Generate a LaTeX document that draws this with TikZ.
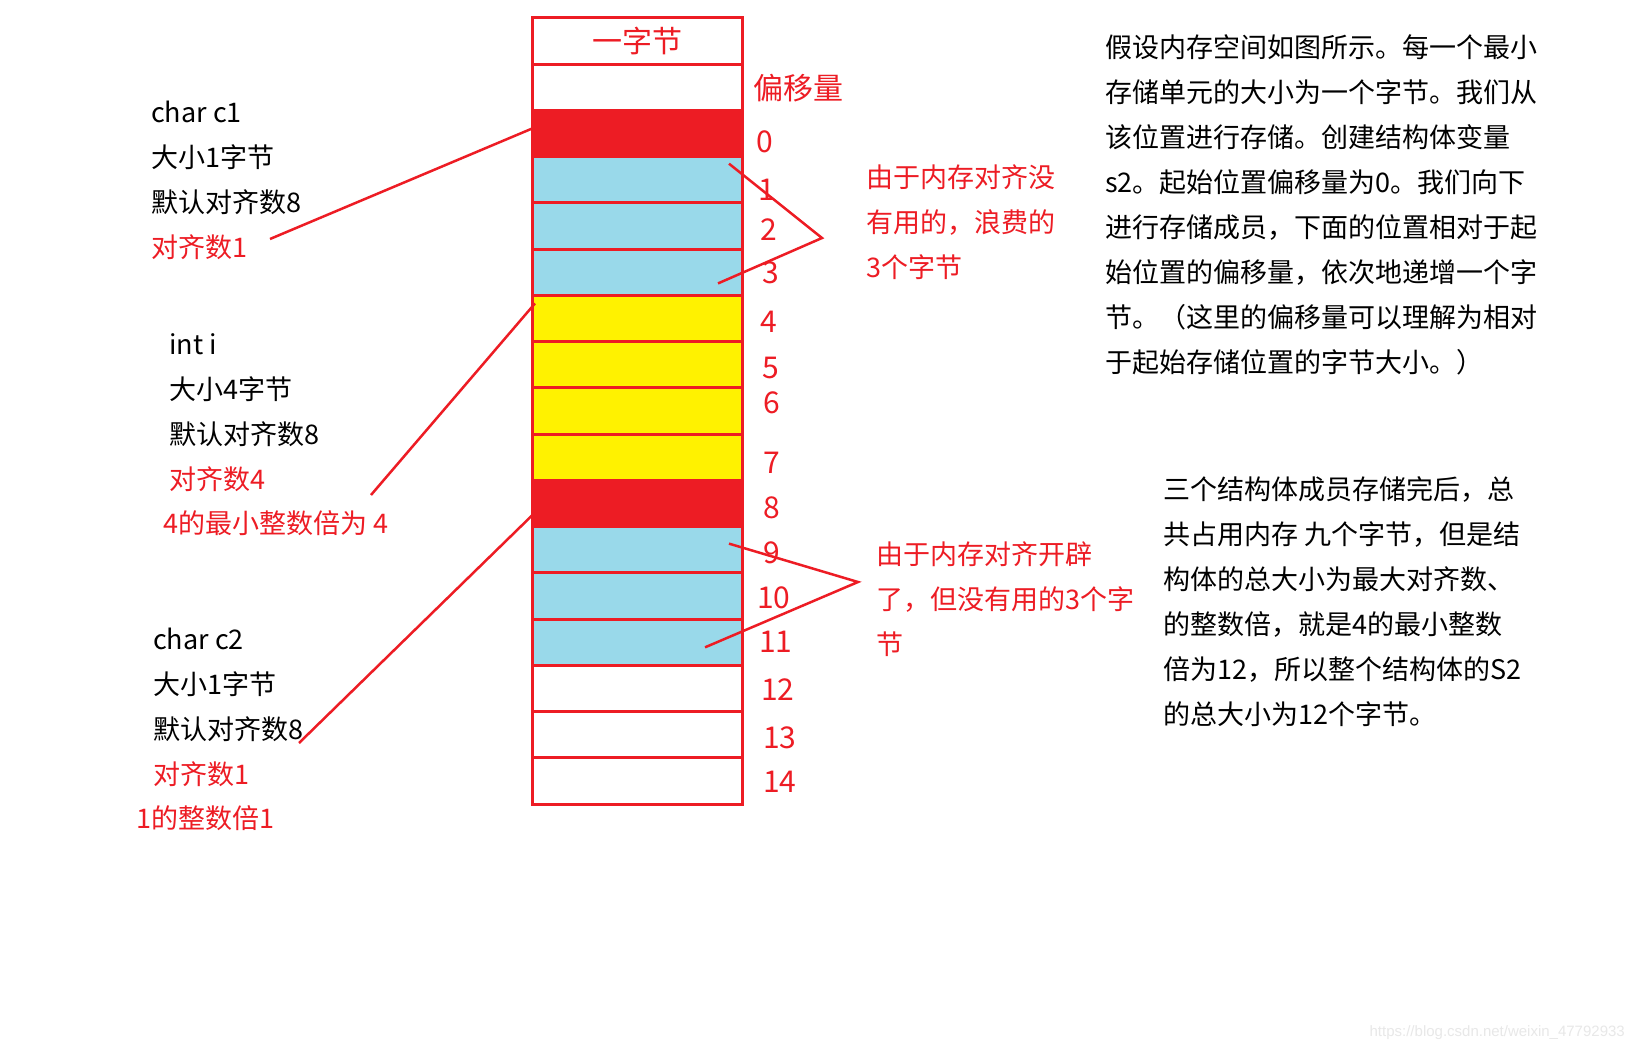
\documentclass[tikz,border=0pt]{standalone}
\usepackage{fontspec}
\newfontfamily\cjk{Noto Sans CJK SC}
\newfontfamily\wmfont{Liberation Sans}
\usetikzlibrary{positioning,calc}
\definecolor{cred}{HTML}{ED1C24}
\definecolor{cblue}{HTML}{99D9EA}
\definecolor{cyellow}{HTML}{FFF200}
\tikzset{
  cell/.style={draw=cred, line width=3pt, minimum width=210pt, minimum height=46.24pt,
               inner sep=0pt, outer sep=0pt},
  num/.style={anchor=west, inner sep=0pt, text=cred, font=\cjk\fontsize{30}{36}\selectfont},
  note/.style={anchor=west, inner sep=0pt, align=left, font=\cjk\fontsize{27}{45}\selectfont},
  rnote/.style={note, text=cred},
  lead/.style={cred, line width=2.5pt},
}

\begin{document}
\begin{tikzpicture}[x=1pt, y=-1pt]
  \fill[white] (0,0) rectangle (1636,1052);

  % memory column
  \node[cell, text=cred, font=\cjk\fontsize{30}{36}\selectfont] (hdr) at (637,41.1) {一字节};
  \node[cell, below=0pt of hdr] (blank) {};
  \node[cell, fill=cred, below=0pt of blank] (m0) {};
  \node[cell, fill=cblue, below=0pt of m0] (m1) {};
  \node[cell, fill=cblue, below=0pt of m1] (m2) {};
  \node[cell, fill=cblue, below=0pt of m2] (m3) {};
  \node[cell, fill=cyellow, below=0pt of m3] (m4) {};
  \node[cell, fill=cyellow, below=0pt of m4] (m5) {};
  \node[cell, fill=cyellow, below=0pt of m5] (m6) {};
  \node[cell, fill=cyellow, below=0pt of m6] (m7) {};
  \node[cell, fill=cred, below=0pt of m7] (m8) {};
  \node[cell, fill=cblue, below=0pt of m8] (m9) {};
  \node[cell, fill=cblue, below=0pt of m9] (m10) {};
  \node[cell, fill=cblue, below=0pt of m10] (m11) {};
  \node[cell, below=0pt of m11] (m12) {};
  \node[cell, below=0pt of m12] (m13) {};
  \node[cell, below=0pt of m13] (m14) {};

  % offsets
  \node[num] (off) at (753,88) {偏移量};
  \node[num] (n0) at (756,142) {0};
  \node[num] (n1) at (758,190) {1};
  \node[num] (n2) at (760,230) {2};
  \node[num] (n3) at (762,273) {3};
  \node[num] (n4) at (760,322) {4};
  \node[num] (n5) at (762,368) {5};
  \node[num] (n6) at (763,403) {6};
  \node[num] (n7) at (763,463) {7};
  \node[num] (n8) at (763,508) {8};
  \node[num] (n9) at (763,553) {9};
  \node[num] (n10) at (757,598) {10};
  \node[num] (n11) at (759,642) {11};
  \node[num] (n12) at (761,690) {12};
  \node[num] (n13) at (763,738) {13};
  \node[num] (n14) at (763,782) {14};

  % members
  \node[note] (c1) at (151,180.5) {char c1\\大小1字节\\默认对齐数8\\\textcolor{cred}{对齐数1}};
  \node[note] (ii) at (169,412.5) {int i\\大小4字节\\默认对齐数8\\\textcolor{cred}{对齐数4}};
  \node[rnote] (iim) at (163,523) {4的最小整数倍为 4};
  \node[note] (c2) at (153,707.5) {char c2\\大小1字节\\默认对齐数8\\\textcolor{cred}{对齐数1}};
  \node[rnote] (c2m) at (136,818) {1的整数倍1};

  \coordinate (c1e) at (270,239);
  \coordinate (iie) at (371,495);
  \coordinate (c2e) at (299,743);
  \draw[lead] (c1e) -- ($(m0.west)+(0,-5)$);
  \draw[lead] (iie) -- ($(m4.north west)+(3,8)$);
  \draw[lead] (c2e) -- ($(m8.west)+(0,12)$);

  % padding bytes
  \coordinate (w1) at (822,238);
  \coordinate (w2) at (858,582);
  \draw[lead] ($(m1.north east)+(-13,7)$) -- (w1) -- ($(m3.south east)+(-24,-12)$);
  \draw[lead] ($(m9.north east)+(-13,17)$) -- (w2) -- ($(m11.south east)+(-37,-18)$);
  \node[rnote] (waste1) at (866,222) {由于内存对齐没\\有用的，浪费的\\3个字节};
  \node[rnote] (waste2) at (876,599) {由于内存对齐开辟\\了，但没有用的3个字\\节};

  % explanations
  \node[note] (desc) at (1105,204.5) {假设内存空间如图所示。每一个最小\\存储单元的大小为一个字节。我们从\\该位置进行存储。创建结构体变量\\s2。起始位置偏移量为0。我们向下\\进行存储成员，下面的位置相对于起\\始位置的偏移量，依次地递增一个字\\节。（这里的偏移量可以理解为相对\\于起始存储位置的字节大小。）};
  \node[note] (sum) at (1163,601.5) {三个结构体成员存储完后，总\\共占用内存 九个字节，但是结\\构体的总大小为最大对齐数、\\的整数倍，就是4的最小整数\\倍为12，所以整个结构体的S2\\的总大小为12个字节。};

  \node[anchor=east, inner sep=0pt, text=black!9, font=\wmfont\fontsize{15}{18}\selectfont] (wm)
    at (1625,1033) {https://blog.csdn.net/weixin\_47792933};
\end{tikzpicture}
\end{document}
